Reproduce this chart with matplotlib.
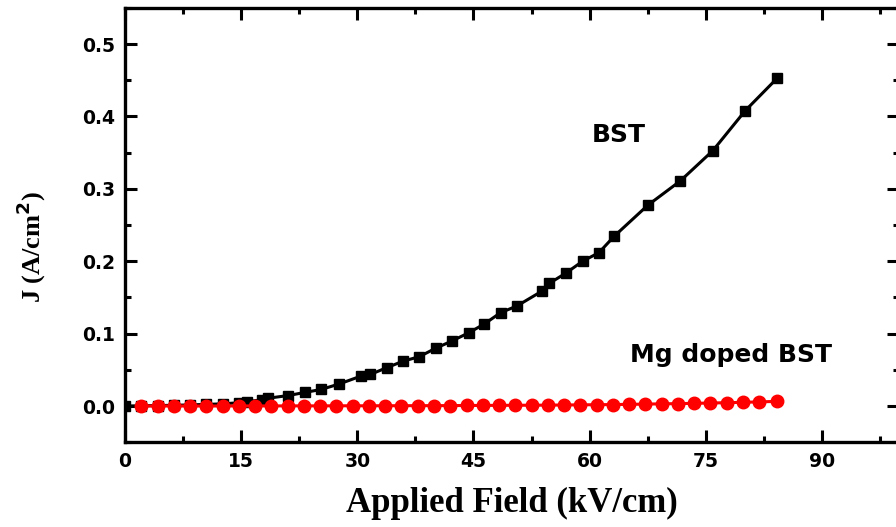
import numpy as np
import matplotlib
matplotlib.use("Agg")
import matplotlib.pyplot as plt
from matplotlib.ticker import MultipleLocator

# BST (undoped) J-E data
bst_field = [0.0, 2.1, 4.2, 6.3, 8.4, 10.5, 12.6, 14.7, 15.7, 17.7, 18.5, 21.1,
             23.2, 25.3, 27.6, 30.5, 31.7, 33.8, 35.9, 38.0, 40.1, 42.2, 44.4,
             46.4, 48.5, 50.6, 53.8, 54.8, 56.9, 59.1, 61.2, 63.2, 67.5, 71.7,
             75.9, 80.1, 84.2]
bst_J = [0.0, 0.0003, 0.0006, 0.001, 0.0015, 0.0022, 0.003, 0.0045, 0.006,
         0.0085, 0.0108, 0.0145, 0.0187, 0.0228, 0.0302, 0.0414, 0.0437,
         0.0529, 0.0619, 0.0681, 0.0797, 0.0897, 0.1012, 0.1133, 0.1289,
         0.1381, 0.1584, 0.1695, 0.1833, 0.2000, 0.2118, 0.2348, 0.2772,
         0.3108, 0.3526, 0.4080, 0.4526]

# Mg doped BST
mg_field = [2.1, 4.2, 6.3, 8.4, 10.5, 12.6, 14.7, 16.8, 18.9, 21.0, 23.1, 25.2,
            27.3, 29.4, 31.5, 33.6, 35.7, 37.8, 39.9, 42.0, 44.1, 46.2, 48.3,
            50.4, 52.5, 54.6, 56.7, 58.8, 60.9, 63.0, 65.1, 67.2, 69.3, 71.4,
            73.5, 75.6, 77.7, 79.8, 81.9, 84.2]
mg_J = [0.0, 0.0, 0.0, 0.0, 0.0, 0.0, 0.0001, 0.0001, 0.0001, 0.0002, 0.0002,
        0.0002, 0.0003, 0.0003, 0.0003, 0.0004, 0.0004, 0.0005, 0.0005, 0.0006,
        0.0007, 0.0008, 0.0009, 0.001, 0.0011, 0.0012, 0.0014, 0.0016, 0.0018,
        0.002, 0.0023, 0.0026, 0.003, 0.0033, 0.0037, 0.0041, 0.0046, 0.0051,
        0.0057, 0.0064]

x_ticks = [0, 15, 30, 45, 60, 75, 90]
y_ticks = [0.0, 0.1, 0.2, 0.3, 0.4, 0.5]

tick_font = dict(family="DejaVu Sans", weight="bold", size=13.5)

fig = plt.figure(figsize=(8.96, 5.27), dpi=100)
ax = fig.add_axes([0.1395, 0.1609, 0.8643, 0.8243])

ax.plot(bst_field, bst_J, color="black", lw=2.2, marker="s", ms=7.5,
        zorder=3)
ax.plot(mg_field, mg_J, color="red", lw=2.2, marker="o", ms=9,
        mec="red", zorder=4)

ax.set_xlim(0, 100)
ax.set_ylim(-0.05, 0.55)
ax.set_xticks(x_ticks)
ax.set_yticks(y_ticks)
ax.set_xticklabels([str(v) for v in x_ticks], fontdict=tick_font)
ax.set_yticklabels(["%.1f" % v for v in y_ticks], fontdict=tick_font)
ax.xaxis.set_minor_locator(MultipleLocator(7.5))
ax.yaxis.set_minor_locator(MultipleLocator(0.05))

ax.tick_params(which="both", direction="in", top=True, right=True, width=2.2)
ax.tick_params(which="major", length=8.5, pad=7)
ax.tick_params(which="minor", length=4)
for s in ax.spines.values():
    s.set_linewidth(2.4)

plt.rcParams["mathtext.fontset"] = "stix"
ax.set_xlabel("Applied Field (kV/cm)", family="Liberation Serif",
              weight="bold", size=25, va="center")
ax.xaxis.set_label_coords(0.5, -0.14)
ax.set_ylabel(r"J (A/cm$^\mathbf{2}$)", family="Liberation Serif",
              weight="bold", size=19, va="center")
ax.yaxis.set_label_coords(-0.121, 0.449)

ax.text(63.7, 0.3646, "BST", ha="center", va="baseline",
        family="DejaVu Sans", weight="bold", size=18)
ax.text(78.2, 0.0612, "Mg doped BST", ha="center", va="baseline",
        family="DejaVu Sans", weight="bold", size=18)

fig.savefig("out.png", dpi=100)
